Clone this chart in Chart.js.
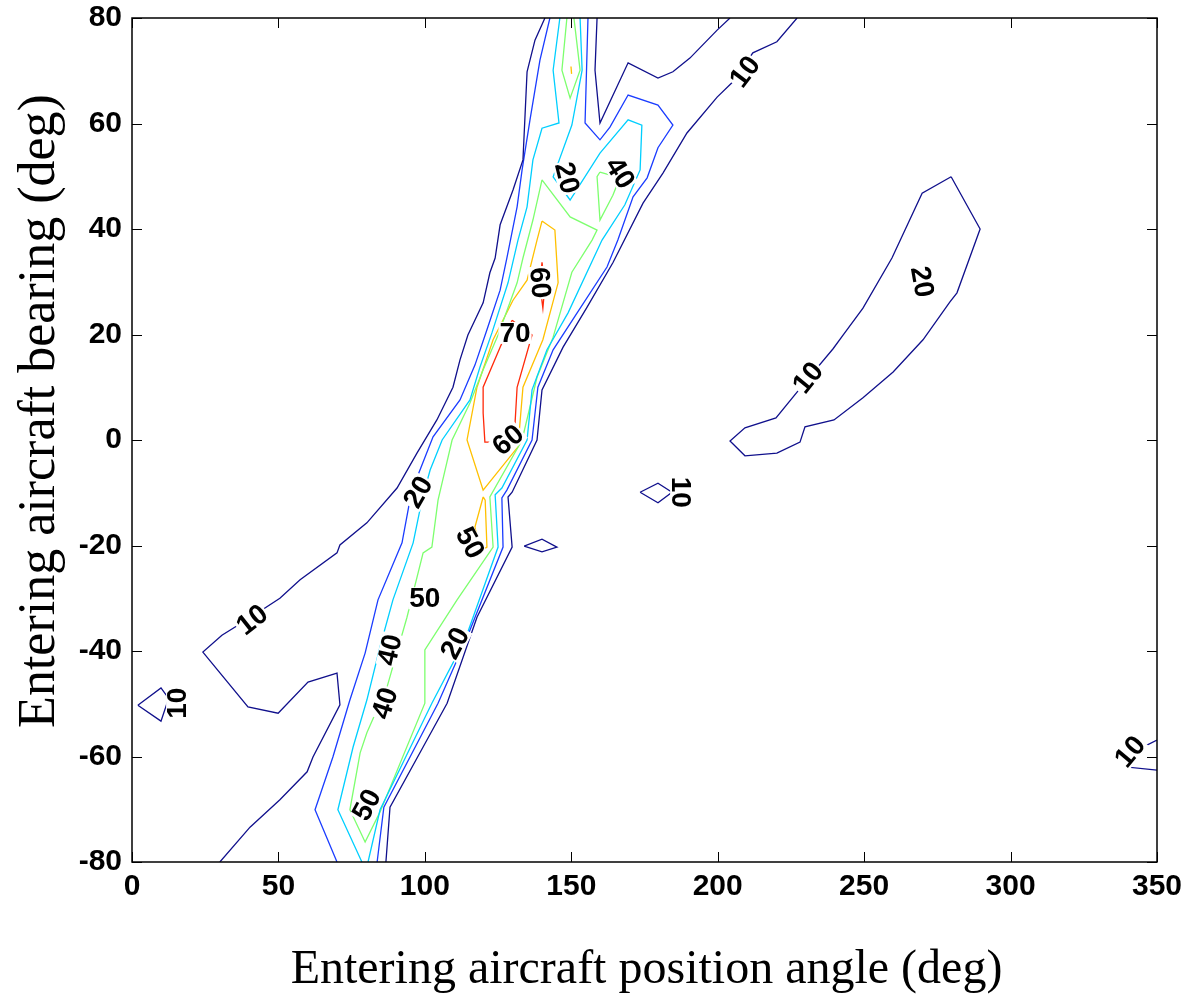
<!DOCTYPE html>
<html>
<head>
<meta charset="utf-8">
<script src="https://cdn.jsdelivr.net/npm/chart.js@4.4.0/dist/chart.umd.min.js"></script>
<style>
  html, body { margin: 0; padding: 0; background: #fff; }
  #wrap { width: 1185px; height: 1001px; }
</style>
</head>
<body>
<div id="wrap"><canvas id="contourChart" width="1185" height="1001"></canvas></div>
<script>
// contour polylines, [position angle, bearing] in degrees

// level 10
const navyLeft = [[141,80],[137.6,75.8],[134.9,69.8],[133.5,53.1],[130.1,47.4],[125.7,40.8],[124,34.5],[122.2,31.7],[119.9,26],[114.7,19.9],[112,15.2],[109.6,10],[104.1,3.8],[97.3,-2.5],[90.5,-9.1],[80.2,-15.7],[71,-19.9],[70,-21.4],[57.4,-26.5],[50.5,-30],[40.3,-33.7],[30.7,-37],[24.2,-40.2],[39.6,-50.6],[49.9,-51.8],[60.1,-45.9],[70,-44.2],[71,-50.2],[61.8,-60.1],[59.8,-62.9],[50.5,-68.2],[40.3,-73.4],[30,-80]];
const navyRight = [[86.7,-80],[88.1,-69.6],[99.4,-58.2],[107.6,-49.9],[117.8,-33.6],[129.8,-20.3],[128.4,-10.8],[129.8,-9.9],[138.3,0],[140,9.5],[147.2,17.6],[155.4,25.2],[164.2,33.6],[174.5,44.9],[181.3,50.6],[189.5,58.2],[199.8,65],[205.2,67.9],[212,73.4],[220.2,75.5],[227.1,80]];
const navyTop = [[158.8,80],[158.1,70.1],[159.8,60.1],[169.4,71.5],[179.6,68.6],[184.7,69.8],[190.5,72.4],[199.8,77.7],[204.2,80]];
const navyWest = [[2,-50.3],[9.9,-47],[12.5,-49],[9.9,-53.3],[2,-50.3]];
const navyMid = [[173.5,-9.9],[179.6,-8.2],[184.4,-9.9],[179.6,-11.9],[173.5,-9.9]];
const navySmall = [[133.9,-20.1],[140,-18.8],[145.1,-20.3],[140,-21.2],[133.9,-20.1]];
const navyEdge = [[350,-56.9],[344.2,-58.5],[339.8,-62],[350,-62.6]];
const navyEast = [[279.7,49.9],[289.6,40],[281.7,27.9],[279.3,26.2],[270.1,19],[259.9,12.9],[249.6,8],[239.7,3.8],[229.8,2.5],[228.1,-0.4],[220.2,-2.5],[209.3,-3],[204.2,-0.2],[209.3,2.3],[219.9,4.2],[230.5,11.4],[239.4,17.3],[242.8,19.9],[249.6,25],[259.5,34.5],[269.8,46.8],[279.7,49.9]];

// level 20
const blueLeft = [[142.7,80],[139.3,72],[135.9,60.7],[133.2,51.2],[131.5,44.2],[128,34.5],[125.7,28.4],[121.2,20.9],[117.1,14.2],[112,7.6],[102.8,0.6],[97.7,-6.6],[94.9,-11.4],[92.2,-19.5],[84,-30.3],[79.6,-40.4],[74.4,-49.3],[68.6,-60.1],[62.5,-70.1],[70,-80]];
const blueRight = [[83.7,-80],[86,-69.6],[104.5,-49.9],[114.7,-37],[126.7,-20.3],[126.3,-11],[128,-9.5],[136.6,0],[138.6,10],[143.8,17.1],[152,24.1],[162.2,32.8],[165.9,37.9],[171.1,46.1],[175.9,49.7],[179.6,55.4],[184.7,59.7],[179.6,63.5],[169.4,65.4],[163.2,59.3],[159.8,56.9],[154.7,60.1],[155.7,80]];
const blueSpeck = [[269.8,33],[271.3,31],[271.5,29.6],[270.2,31.4],[269.8,33]];

// level 30
const cyanLeft = [[146.1,80],[143.8,70.1],[145.8,60.1],[140,59.1],[136.9,53.1],[134.9,44.2],[131.8,37.9],[128.4,29.8],[122.9,20.3],[118.8,13.8],[115.4,7.6],[105.9,0],[101.8,-5.7],[99,-11.4],[96,-19.5],[89.1,-30.3],[84.7,-39.2],[80.2,-49.3],[75.5,-58.2],[70.3,-70.1],[78.5,-80]];
const cyanRight = [[80.6,-80],[84.7,-70.1],[102.4,-49.9],[113.7,-37.9],[125,-20.3],[124,-10.4],[126.3,-9.1],[134.9,0],[136.6,9.5],[141.7,17.1],[148.9,24.1],[160.5,37.9],[168.3,44.6],[173.5,51.2],[174.1,59.7],[169.4,60.7],[159.8,54.4],[149.6,45.5],[143.8,49.9],[150.2,59.7],[153.7,70.1],[153,80]];

// level 40
const greenTop = [[148.5,80],[146.8,70.1],[149.6,64.8],[153,70.1],[150.9,80]];
const greenSmall = [[159.8,50.8],[158.8,49.9],[159.8,41.7],[164.2,46.4],[166.6,49.7],[159.8,50.8]];
const greenMain = [[140,49.3],[136.9,41.7],[133.5,34.5],[131.5,29.8],[125,19.9],[119.9,13.3],[115.4,7],[109.3,0],[106.9,-5.7],[104.5,-11.4],[102.4,-20.3],[99.4,-21.4],[93.9,-33.6],[87.1,-46.8],[80.2,-55.5],[77.9,-59.3],[74.4,-70.1],[79.6,-76.2],[84.7,-70.5],[100,-49.9],[100,-39.8],[111,-30.3],[123.3,-20.3],[122.2,-10.8],[133.2,0],[138.3,11.9],[143.8,19.5],[150.2,31.8],[157.1,37.9],[158.8,39.8],[149.6,42.3],[140,49.3]];

// level 50
const orangeMain = [[140,41.5],[144.4,39.8],[145.5,29.8],[140.3,19],[133.5,10],[131.8,-1.3],[119.9,-9.5],[114.4,0],[117.8,10],[123.3,19],[130.1,26.5],[134.9,30.3],[138.3,37.9],[140,41.5]];
const orangeLower = [[119.9,-10.8],[117.1,-16.5],[118.8,-21.2],[121.2,-20.3],[120.6,-11.4],[119.9,-10.8]];
const orangeSpeck = [[149.9,70.8],[150.1,69.4]];

// level 70
const redMain = [[129.8,22.7],[136.6,19.9],[131.5,10],[130.8,3.2],[125.7,-0.4],[120.5,-0.4],[119.9,5.1],[119.9,10],[125.7,17.6],[129.8,22.7]];
const redSmall = [[140,33.7],[141,29.4],[140.3,25],[139.3,29.4],[140,33.7]];

const levelColors = {
    10: '#10108c',
    20: '#1a3cff',
    30: '#00cfff',
    40: '#7dff6e',
    50: '#ffc000',
    70: '#ff2a0a'
};

const contourLines = [
    [10, navyLeft], [10, navyRight], [10, navyTop], [10, navyWest], [10, navyMid],
    [10, navySmall], [10, navyEdge], [10, navyEast],
    [20, blueLeft], [20, blueRight], [20, blueSpeck],
    [30, cyanLeft], [30, cyanRight],
    [40, greenTop], [40, greenSmall], [40, greenMain],
    [50, orangeMain], [50, orangeLower], [50, orangeSpeck],
    [70, redMain], [70, redSmall]
];

// inline contour labels: text, x, y, angle (deg, clockwise)
const contourLabels = [
    ['10', 209.3, 69.8, -53],
    ['20', 148.5, 49.7, 76],
    ['40', 166.6, 50.6, 58],
    ['60', 139.3, 29.8, 85],
    ['70', 130.8, 20.3, 0],
    ['60', 128.4, 0, -40],
    ['20', 97.7, -9.9, -60],
    ['10', 187.5, -9.9, 90],
    ['50', 115.4, -19.5, 62],
    ['50', 100, -30, 0],
    ['10', 41, -34.1, -38],
    ['40', 88.1, -39.8, -77],
    ['20', 110.3, -38.5, -62],
    ['40', 86.4, -49.9, -72],
    ['10', 15.4, -49.9, -90],
    ['50', 80.2, -69.2, -62],
    ['10', 340.8, -59.1, -50],
    ['10', 230.8, 11.8, -51],
    ['20', 269.8, 30, 80]
];

const xTitle = 'Entering aircraft position angle (deg)';
const yTitle = 'Entering aircraft bearing (deg)';

const datasets = contourLines.map(([level, pts]) => ({
    label: 'level ' + level,
    data: pts.map(p => ({ x: p[0], y: p[1] })),
    showLine: true,
    borderColor: levelColors[level],
    borderWidth: 1.3,
    pointRadius: 0,
    pointHoverRadius: 0,
    fill: false,
    tension: 0
}));

// box round the plot with ticks pointing in on all four sides
const framePlugin = {
    id: 'frame',
    afterDatasetsDraw(chart) {
        const { ctx, chartArea: a, scales } = chart;
        ctx.save();
        ctx.strokeStyle = '#000';
        ctx.lineWidth = 1.5;
        ctx.strokeRect(a.left, a.top, a.right - a.left, a.bottom - a.top);
        ctx.lineWidth = 1;
        ctx.beginPath();
        scales.x.ticks.forEach(t => {
            const px = Math.round(scales.x.getPixelForValue(t.value)) + 0.5;
            ctx.moveTo(px, a.bottom); ctx.lineTo(px, a.bottom - 10);
            ctx.moveTo(px, a.top); ctx.lineTo(px, a.top + 10);
        });
        scales.y.ticks.forEach(t => {
            const py = Math.round(scales.y.getPixelForValue(t.value)) + 0.5;
            ctx.moveTo(a.left, py); ctx.lineTo(a.left + 10, py);
            ctx.moveTo(a.right, py); ctx.lineTo(a.right - 10, py);
        });
        ctx.stroke();
        ctx.restore();
    }
};

const labelPlugin = {
    id: 'contourLabels',
    afterDatasetsDraw(chart) {
        const { ctx, scales } = chart;
        ctx.save();
        ctx.font = 'bold 28px "Liberation Sans", Arial, sans-serif';
        ctx.textAlign = 'center';
        ctx.textBaseline = 'middle';
        contourLabels.forEach(([txt, x, y, ang]) => {
            const px = scales.x.getPixelForValue(x);
            const py = scales.y.getPixelForValue(y);
            ctx.save();
            ctx.translate(px, py);
            ctx.rotate(ang * Math.PI / 180);
            const w = ctx.measureText(txt).width;
            ctx.fillStyle = '#fff';
            ctx.fillRect(-w / 2 - 1, -11, w + 2, 22);
            ctx.fillStyle = '#000';
            ctx.fillText(txt, 0, 1);
            ctx.restore();
        });
        ctx.restore();
    }
};

const titlePlugin = {
    id: 'axisTitles',
    afterDraw(chart) {
        const { ctx, chartArea: a } = chart;
        ctx.save();
        ctx.fillStyle = '#000';
        ctx.textAlign = 'center';
        ctx.textBaseline = 'middle';
        ctx.font = '48px "Liberation Serif", "Times New Roman", serif';
        ctx.fillText(xTitle, (a.left + a.right) / 2 + 2, 970);
        ctx.font = '52px "Liberation Serif", "Times New Roman", serif';
        ctx.translate(40, 411);
        ctx.rotate(-Math.PI / 2);
        ctx.fillText(yTitle, 0, 0);
        ctx.restore();
    }
};

new Chart(document.getElementById('contourChart'), {
    type: 'scatter',
    data: { datasets },
    options: {
        responsive: false,
        animation: false,
        devicePixelRatio: 1,
        layout: { padding: { top: 18, right: 28, left: 0, bottom: 0 } },
        plugins: {
            legend: { display: false },
            tooltip: { enabled: false }
        },
        scales: {
            x: {
                type: 'linear',
                min: 0,
                max: 350,
                afterFit: s => { s.height = 139; s.paddingLeft = 0; s.paddingRight = 0; },
                grid: { display: false, drawTicks: false },
                border: { display: false },
                ticks: {
                    stepSize: 50,
                    color: '#000',
                    padding: 7,
                    maxRotation: 0,
                    font: { family: '"Liberation Sans", Arial', size: 30, weight: 'bold' }
                }
            },
            y: {
                type: 'linear',
                min: -80,
                max: 80,
                afterFit: s => { s.width = 132; s.paddingTop = 0; s.paddingBottom = 0; },
                grid: { display: false, drawTicks: false },
                border: { display: false },
                ticks: {
                    stepSize: 20,
                    color: '#000',
                    padding: 10,
                    font: { family: '"Liberation Sans", Arial', size: 30, weight: 'bold' }
                }
            }
        }
    },
    plugins: [framePlugin, labelPlugin, titlePlugin]
});
</script>
</body>
</html>
